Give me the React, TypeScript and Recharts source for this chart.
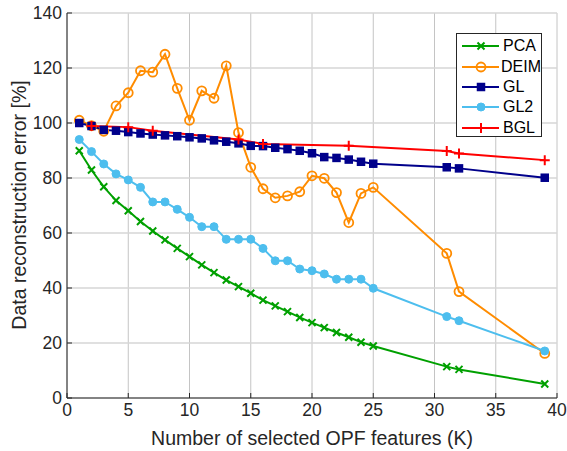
import React from 'react';
import { LineChart, Line, XAxis, YAxis, CartesianGrid, Legend } from 'recharts';

const kAll = [1, 2, 3, 4, 5, 6, 7, 8, 9, 10, 11, 12, 13, 14, 15, 16, 17, 18, 19, 20, 21, 22, 23, 24, 25, 31, 32, 39];
const pcaValues = [89.9, 82.9, 76.8, 71.8, 68.1, 64.2, 60.7, 57.5, 54.4, 51.4, 48.4, 45.6, 42.9, 40.5, 38.1, 35.6, 33.5, 31.4, 29.3, 27.4, 25.6, 23.8, 22.1, 20.3, 18.9, 11.4, 10.4, 5.1];
const deimValues = [101, 99, 97, 106.2, 111, 119, 118.5, 125, 112.6, 101, 111.7, 109, 120.8, 96.5, 83.9, 76.1, 72.8, 73.5, 75, 80.8, 79.9, 74.7, 63.8, 74.4, 76.6, 52.6, 38.7, 16.2];
const glValues = [100, 98.9, 97.5, 97.2, 96.7, 96.2, 95.8, 95.5, 95.2, 94.8, 94.4, 93.7, 93.2, 92.6, 91.7, 91.6, 91.0, 90.5, 89.9, 89.0, 87.6, 87.3, 86.7, 85.9, 85.2, 83.9, 83.5, 80.1];
const gl2Values = [94.0, 89.6, 85.1, 81.5, 79.3, 76.6, 71.3, 71.3, 68.6, 65.7, 62.3, 62.3, 57.7, 57.7, 57.7, 54.4, 49.9, 49.9, 46.9, 46.3, 45.1, 43.2, 43.2, 43.2, 39.9, 29.6, 28.1, 17.1];
const bglK = [2, 5, 7, 14, 16, 23, 31, 32, 39];
const bglValues = [98.9, 98.5, 97.2, 94.0, 92.4, 91.7, 89.8, 88.9, 86.5];

const xTicks = [0, 5, 10, 15, 20, 25, 30, 35, 40];
const yTicks = [0, 20, 40, 60, 80, 100, 120, 140];

const toRows = (ks: number[], vals: number[]) => ks.map((k, i) => ({ k, v: vals[i] }));

const FONT = '"Liberation Sans", Arial, Helvetica, sans-serif';
const AXIS = '#262626';

const COLORS = {
  pca: '#00a000',
  deim: '#ff8c00',
  gl: '#00008b',
  gl2: '#4dbeee',
  bgl: '#ff0000',
};

type Marker = 'x' | 'o' | 's' | 'dot' | '+';

const drawMarker = (m: Marker, cx: number, cy: number, color: string, key?: string | number) => {
  if (cx == null || cy == null || isNaN(cx) || isNaN(cy)) return <g key={key} />;
  switch (m) {
    case 'x':
      return (
        <path key={key} d={`M${cx - 3.5},${cy - 3.5}L${cx + 3.5},${cy + 3.5}M${cx - 3.5},${cy + 3.5}L${cx + 3.5},${cy - 3.5}`}
          stroke={color} strokeWidth={2} fill="none" />
      );
    case 'o':
      return <circle key={key} cx={cx} cy={cy} r={4.5} stroke={color} strokeWidth={1.8} fill="none" />;
    case 's':
      return <rect key={key} x={cx - 3.5} y={cy - 3.5} width={7} height={7} stroke={color} strokeWidth={1.5} fill={color} />;
    case 'dot':
      return <circle key={key} cx={cx} cy={cy} r={4} fill={color} stroke={color} />;
    case '+':
      return (
        <path key={key} d={`M${cx - 5},${cy}L${cx + 5},${cy}M${cx},${cy - 5}L${cx},${cy + 5}`}
          stroke={color} strokeWidth={2} fill="none" />
      );
  }
};

const series = [
  { name: 'PCA', color: COLORS.pca, marker: 'x' as Marker, data: toRows(kAll, pcaValues) },
  { name: 'DEIM', color: COLORS.deim, marker: 'o' as Marker, data: toRows(kAll, deimValues) },
  { name: 'GL', color: COLORS.gl, marker: 's' as Marker, data: toRows(kAll, glValues) },
  { name: 'GL2', color: COLORS.gl2, marker: 'dot' as Marker, data: toRows(kAll, gl2Values) },
  { name: 'BGL', color: COLORS.bgl, marker: '+' as Marker, data: toRows(bglK, bglValues) },
];

const LegendBox = () => (
  <div
    style={{
      border: `1px solid ${AXIS}`,
      background: '#fff',
      width: 86,
      height: 104,
      boxSizing: 'border-box',
      padding: '2px 0 0 0',
      fontFamily: FONT,
      fontSize: 16,
      color: '#000',
    }}
  >
    {series.map((s) => (
      <div key={s.name} style={{ display: 'flex', alignItems: 'center', height: 20.4 }}>
        <svg width={41} height={20} style={{ marginLeft: 4 }}>
          <line x1={1} y1={10} x2={38} y2={10} stroke={s.color} strokeWidth={2} />
          {drawMarker(s.marker, 20, 10, s.color)}
        </svg>
        <span style={{ marginLeft: 1 }}>{s.name}</span>
      </div>
    ))}
  </div>
);

export default function App() {
  return (
    <div style={{ position: 'absolute', left: 0, top: 0, width: 567, height: 451, background: '#fff' }}>
      <LineChart width={567} height={451} margin={{ top: 13, right: 10, bottom: 0, left: 0 }}>
        <CartesianGrid horizontal={false} stroke="#c4c4c4" strokeWidth={1} />
        <CartesianGrid vertical={false} stroke="#d6d6d6" strokeWidth={1.5} />
        <XAxis
          type="number"
          dataKey="k"
          domain={[0, 40]}
          ticks={xTicks}
          allowDuplicatedCategory={false}
          height={53}
          stroke={AXIS}
          tickLine={{ stroke: AXIS }}
          tickSize={-5}
          tickMargin={11}
          tick={{ fill: AXIS, fontSize: 17.5, fontFamily: FONT }}
          label={() => (
            <text x={312} y={438} textAnchor="middle" dominantBaseline="central" fill={AXIS} fontSize={19.5} fontFamily={FONT}>
              Number of selected OPF features (K)
            </text>
          )}
        />
        <XAxis xAxisId="top" orientation="top" type="number" domain={[0, 40]} ticks={xTicks} height={0} stroke={AXIS} tick={false} tickLine={{ stroke: AXIS }} tickSize={-5} />
        <YAxis
          type="number"
          domain={[0, 140]}
          ticks={yTicks}
          width={67}
          stroke={AXIS}
          tickLine={{ stroke: AXIS }}
          tickSize={-5}
          tickMargin={10}
          tick={{ fill: AXIS, fontSize: 17.5, fontFamily: FONT }}
          label={() => (
            <text x={19} y={205} transform="rotate(-90 19 205)" textAnchor="middle" dominantBaseline="central" fill={AXIS} fontSize={19.5} fontFamily={FONT}>
              Data reconstruction error [%]
            </text>
          )}
        />
        <YAxis yAxisId="right" orientation="right" type="number" domain={[0, 140]} ticks={yTicks} width={0} stroke={AXIS} tick={false} tickLine={{ stroke: AXIS }} tickSize={-5} />
        {series.map((s) => (
          <Line
            key={s.name}
            data={s.data}
            dataKey="v"
            name={s.name}
            type="linear"
            stroke={s.color}
            strokeWidth={2}
            isAnimationActive={false}
            dot={(p: any) => drawMarker(s.marker, p.cx, p.cy, s.color, `${s.name}-${p.index}`)}
            activeDot={false}
          />
        ))}
        <Legend
          layout="vertical"
          align="center"
          verticalAlign="middle"
          content={() => <LegendBox />}
          wrapperStyle={{ left: 456, top: 33, width: 87, height: 105 }}
        />
      </LineChart>
    </div>
  );
}
